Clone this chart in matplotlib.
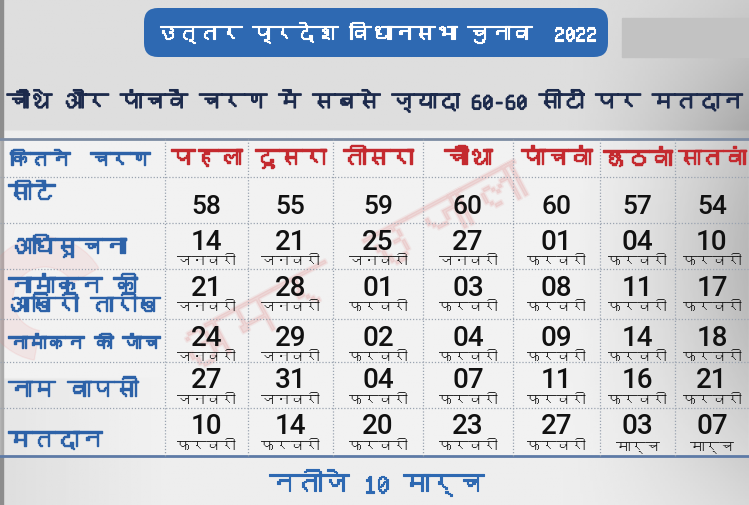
import matplotlib
matplotlib.use('Agg')
import matplotlib.pyplot as plt
import matplotlib.font_manager as fm
import matplotlib.patheffects as pe
from matplotlib.ft2font import FT2Font
from matplotlib.patches import FancyBboxPatch, Rectangle, Wedge
import numpy as np


#********** Data ************
title = 'उत्तर प्रदेश विधानसभा चुनाव  2022'
subtitle = 'चौथे और पांचवें चरण में सबसे ज्यादा 60-60 सीटों पर मतदान'
footer = 'नतीजे 10 मार्च'
watermark = 'अमर उजाला'

corner_label = 'कितने  चरण'
phases = ['पहला', 'दूसरा', 'तीसरा', 'चौथा', 'पांचवां', 'छठवां', 'सातवां']
row_labels = ['सीटें', 'अधिसूचना', 'नामांकन की\nआखिरी तारीख', 'नामांकन की जांच', 'नाम वापसी', 'मतदान']

seats = [58, 55, 59, 60, 60, 57, 54]

notification_day = ['14', '21', '25', '27', '01', '04', '10']
notification_month = ['जनवरी', 'जनवरी', 'जनवरी', 'जनवरी', 'फरवरी', 'फरवरी', 'फरवरी']

last_date_day = ['21', '28', '01', '03', '08', '11', '17']
last_date_month = ['जनवरी', 'जनवरी', 'फरवरी', 'फरवरी', 'फरवरी', 'फरवरी', 'फरवरी']

scrutiny_day = ['24', '29', '02', '04', '09', '14', '18']
scrutiny_month = ['जनवरी', 'जनवरी', 'फरवरी', 'फरवरी', 'फरवरी', 'फरवरी', 'फरवरी']

withdrawal_day = ['27', '31', '04', '07', '11', '16', '21']
withdrawal_month = ['जनवरी', 'जनवरी', 'फरवरी', 'फरवरी', 'फरवरी', 'फरवरी', 'फरवरी']

polling_day = ['10', '14', '20', '23', '27', '03', '07']
polling_month = ['फरवरी', 'फरवरी', 'फरवरी', 'फरवरी', 'फरवरी', 'मार्च', 'मार्च']
#****************************


#********** Find a font with Devanagari glyphs ************
def find_deva_font():
    for path in sorted(fm.findSystemFonts()):
        try:
            if 0x0915 in FT2Font(path).get_charmap():
                fm.fontManager.addfont(path)
                return fm.FontProperties(fname=path).get_name()
        except Exception:
            pass
    return None

deva = find_deva_font()
families = [deva, 'DejaVu Sans'] if deva else ['DejaVu Sans']
plt.rcParams['font.family'] = families
num_family = ['Roboto', 'DejaVu Sans']
#**********************************************************


BLUE = '#2e69b2'
LABEL_BLUE = '#2d62a8'
RED = '#c42a2f'
NAVY = '#1c2a4c'

fig = plt.figure(figsize=(7.49, 5.06), dpi=100)
ax = fig.add_axes([0, 0, 1, 1])
ax.set_xlim(0, 749)
ax.set_ylim(506, 0)
ax.axis('off')
renderer = fig.canvas.get_renderer()


def bold(color, w=1.0):
    return [pe.withStroke(linewidth=w, foreground=color)]


def fit(t, width):
    # shrink a text so it is no wider than width pixels
    w = t.get_window_extent(renderer).width
    if w > width:
        t.set_fontsize(t.get_fontsize() * width / w)
    return t


# background - light grey, darker to the right
xx, yy = np.meshgrid(np.linspace(0, 749, 300), np.linspace(0, 506, 200))
shade = 0.93 - 0.06 * (yy < 130) - 0.30 * np.clip((xx - 560) / 190, 0, 1) ** 1.5 * np.exp(-((yy - 260) / 220) ** 2)
shade -= 0.06 * np.clip((160 - xx) / 160, 0, 1) * (yy > 380)
ax.imshow(shade, extent=(0, 749, 506, 0), cmap='gray', vmin=0, vmax=1, aspect='auto', zorder=0)
ax.add_patch(Rectangle((0, 0), 3, 506, color='#8d8d8d', zorder=1))

# faint watermark
ax.add_patch(Wedge((45, 300), 62, 100, 330, width=30, color='#e05a5a', alpha=0.12, zorder=1))
ax.text(350, 275, watermark, color='#d04040', alpha=0.10, fontsize=44, rotation=28,
        ha='center', va='center', zorder=1, path_effects=bold('#d04040', 2))

# title banner
ax.add_patch(FancyBboxPatch((144, 9), 464, 49, boxstyle='round,pad=0,rounding_size=14',
                            facecolor=BLUE, edgecolor='none', zorder=2))
t = ax.text(376, 34, title, color='white', fontsize=22, ha='center', va='center', zorder=3,
            path_effects=bold('white', 0.8))
fit(t, 440)
ax.add_patch(Rectangle((622, 19), 127, 39, color='#c2c2c2', zorder=2))

t = ax.text(375, 102, subtitle, color=NAVY, fontsize=24, ha='center', va='center', zorder=3,
            path_effects=bold(NAVY, 0.9))
fit(t, 736)

#********** Table ************
col_edges = [165, 248, 333, 423, 513, 600, 675, 749]
row_edges = [140, 178, 224, 270, 320, 363, 409, 457]
col_mid = [(col_edges[i] + col_edges[i + 1]) / 2 for i in range(7)]

ax.add_patch(Rectangle((0, 140), 749, 317, color='white', alpha=0.25, zorder=1))
ax.plot([0, 749], [140, 140], color='#7d8ca3', lw=2, zorder=2)
ax.plot([0, 749], [457, 457], color='#5d7aa6', lw=2, zorder=2)
for y in row_edges[1:-1]:
    ax.plot([0, 749], [y, y], color='#9aa3b0', lw=0.9, ls=(0, (1, 1.5)), zorder=2)
for x in col_edges[:-1]:
    ax.plot([x, x], [140, 457], color='#9aa3b0', lw=0.9, ls=(0, (1, 1.5)), zorder=2)

t = ax.text(10, 160, corner_label, color=LABEL_BLUE, fontsize=17, va='center', zorder=3,
            path_effects=bold(LABEL_BLUE))
fit(t, 140)
for i, p in enumerate(phases):
    t = ax.text(col_mid[i], 160, p, color=RED, fontsize=17, ha='center', va='center', zorder=3,
                path_effects=bold(RED))
    fit(t, col_edges[i + 1] - col_edges[i] - 6)

label_y = [195, 247, 297, 344, 391, 442]
for y, lab in zip(label_y, row_labels):
    t = ax.text(8, y, lab, color=LABEL_BLUE, fontsize=17, va='center', linespacing=0.95, zorder=3,
                path_effects=bold(LABEL_BLUE))
    fit(t, 152)

for i, s in enumerate(seats):
    ax.text(col_mid[i], 207, str(s), color='#111111', fontsize=19, fontweight=500, family=num_family,
            ha='center', va='center', zorder=3)

date_rows = [(notification_day, notification_month),
             (last_date_day, last_date_month),
             (scrutiny_day, scrutiny_month),
             (withdrawal_day, withdrawal_month),
             (polling_day, polling_month)]
for r, (days, months) in enumerate(date_rows):
    top = row_edges[r + 2]
    for i in range(7):
        ax.text(col_mid[i], top + 18, days[i], color='#111111', fontsize=20, fontweight=500,
                family=num_family, ha='center', va='center', zorder=3)
        t = ax.text(col_mid[i], top + 38, months[i], color='#1a1a1a', fontsize=10.5,
                    ha='center', va='center', zorder=3)
        fit(t, 62)
#*****************************

t = ax.text(376, 483, footer, color=BLUE, fontsize=28, ha='center', va='center', zorder=3,
            path_effects=bold(BLUE, 0.8))
fit(t, 215)

fig.savefig('out.png', dpi=100)
